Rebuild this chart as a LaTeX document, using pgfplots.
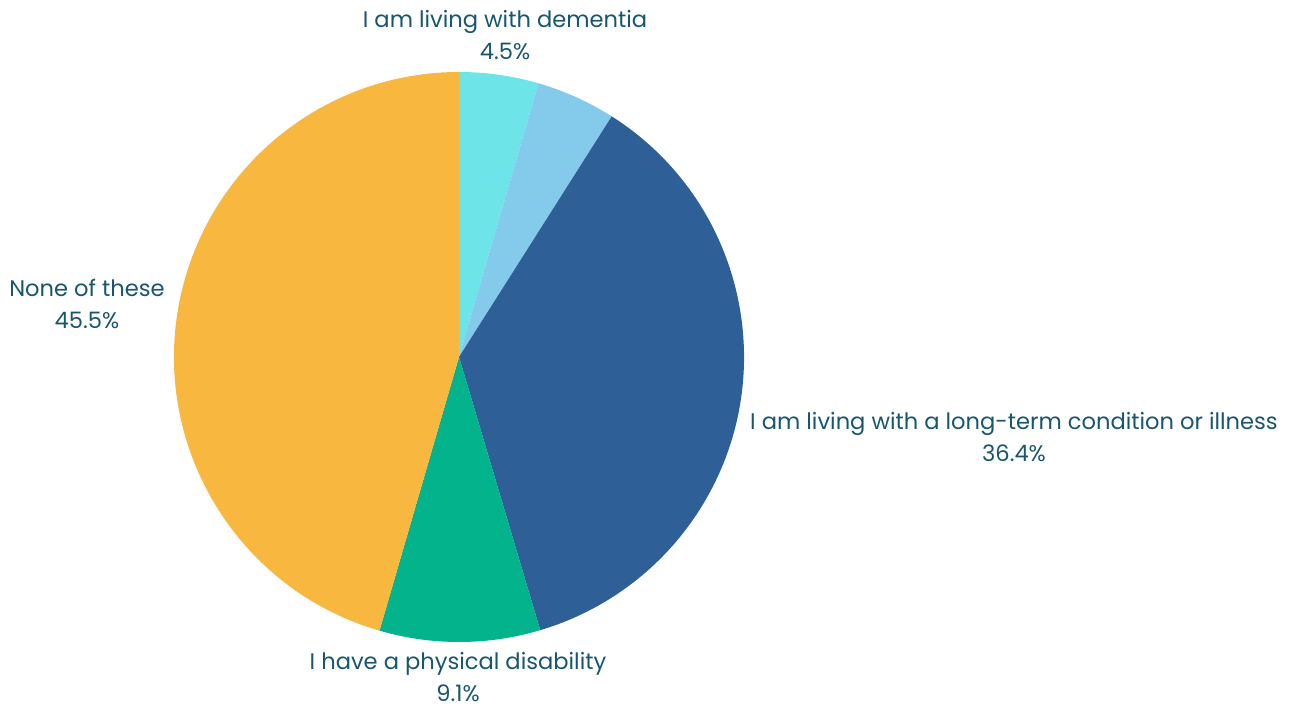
\documentclass[border=0pt]{standalone}
\usepackage{pgfplots}
\usepackage{pgfplotstable}
\pgfplotsset{compat=1.18}
\usepackage{fontspec}
\setmainfont{Poppins}
\definecolor{c1}{HTML}{6CE4E8}
\definecolor{c2}{HTML}{84CAEA}
\definecolor{c3}{HTML}{2E5F97}
\definecolor{c4}{HTML}{03B38C}
\definecolor{c5}{HTML}{F8B840}
\definecolor{txt}{HTML}{18566F}
\pgfplotstableread{
value color
4.5 c1
4.5 c2
36.4 c3
9.1 c4
45.5 c5
}\piedata
\begin{document}
\begin{tikzpicture}
\begin{axis}[
  x=0.5bp, y=0.5bp,
  xmin=0, xmax=1292, ymin=0, ymax=708,
  hide axis, clip=false,
]
\pgfplotsextra{
  \path (axis cs:0,0) rectangle (axis cs:1292,708);
  \def\r{142.5bp}
  \def\startang{90}
  \pgfplotsforeachungrouped \i in {0,...,4}{
    \pgfplotstablegetelem{\i}{value}\of\piedata \let\val\pgfplotsretval
    \pgfplotstablegetelem{\i}{color}\of\piedata \let\col\pgfplotsretval
    \pgfmathsetmacro\dlt{-3.6*\val}
    \fill[color=\col] (axis cs:459,351) -- ++(\startang:\r) arc[start angle=\startang, delta angle=\dlt, radius=\r] -- cycle;
    \pgfmathsetmacro\startang{\startang+\dlt}
    \global\let\startang\startang
  }
}
\begin{scope}[every node/.style={text=txt, align=center, font=\fontsize{11.3bp}{15.8bp}\selectfont, inner sep=0pt}]
\node at (axis cs:505,673) {I am living with dementia\\4.5\%};
\node at (axis cs:87,404) {None of these\\45.5\%};
\node at (axis cs:1014,271) {I am living with a long-term condition or illness\\36.4\%};
\node at (axis cs:458,31) {I have a physical disability\\9.1\%};
\end{scope}
\end{axis}
\end{tikzpicture}
\end{document}
